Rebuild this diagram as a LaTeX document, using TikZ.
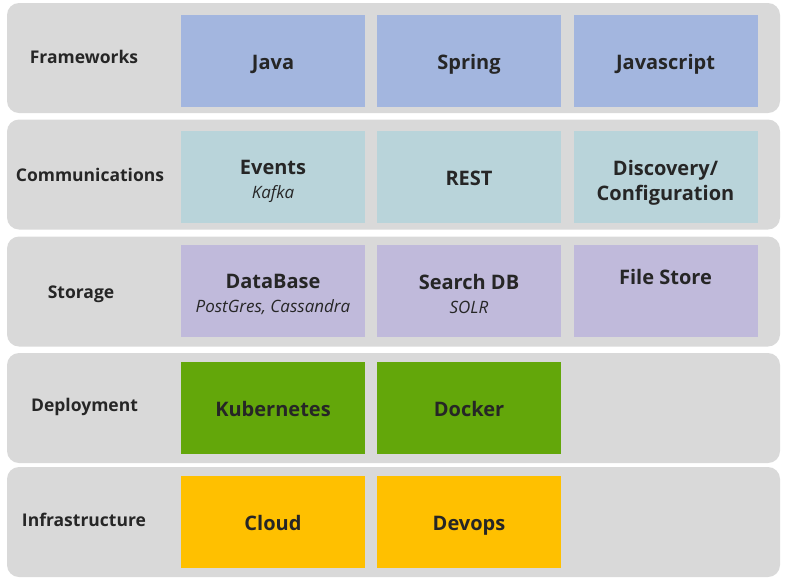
\documentclass[tikz,border=0pt]{standalone}
\usepackage{fontspec}
\setmainfont{Open Sans}
\usetikzlibrary{positioning}
\definecolor{bandgray}{HTML}{D9D9D9}
\definecolor{txtgray}{HTML}{262626}
\definecolor{fwblue}{HTML}{A3B6DF}
\definecolor{comteal}{HTML}{B9D4DA}
\definecolor{stlav}{HTML}{C0BADB}
\definecolor{dpgreen}{HTML}{63A70A}
\definecolor{infyel}{HTML}{FFC000}
\tikzset{
    band/.style = {rectangle, rounded corners=12pt, fill=bandgray, minimum width=773pt, minimum height=110pt, inner sep=0pt},
    rowlabel/.style = {font=\bfseries\fontsize{17.5}{21}\selectfont, text=txtgray, text height=14pt, text depth=1.5pt},
    cell/.style = {rectangle, minimum width=184pt, minimum height=92pt, inner sep=0pt, align=center, text=txtgray, font=\bfseries\fontsize{20}{25}\selectfont},
    oneline/.style = {text height=19pt, text depth=2pt},
    cellb/.style = {cell, fill=fwblue},
    cellt/.style = {cell, fill=comteal},
    cellp/.style = {cell, fill=stlav},
    cellg/.style = {cell, fill=dpgreen},
    celly/.style = {cell, fill=infyel}
}
% main line with an italic line below it
\newcommand{\cellpair}[3][23pt]{\rule{0pt}{#1}#2\\[-1pt]{\normalfont\itshape\fontsize{17}{20}\selectfont #3}}

\begin{document}
\begin{tikzpicture}[x=1pt,y=-1pt]
  \useasboundingbox (0,0) rectangle (786,579);
  % bands
  \node (frameband) at (393.5,58) [band] {};
  \node (commband) at (393.5,174.5) [band] {};
  \node (storeband) at (393.5,291.5) [band] {};
  \node (deployband) at (393.5,408) [band] {};
  \node (infraband) at (393.5,522) [band] {};
  % row labels
  \node (framelbl) at (84,57.5) [rowlabel] {Frameworks};
  \node (commlbl) at (90,175.5) [rowlabel] {Communications};
  \node (storelbl) at (81,292.7) [rowlabel] {Storage};
  \node (deploylbl) at (84.5,405) [rowlabel] {Deployment};
  \node (infralbl) at (84,520) [rowlabel] {Infrastructure};
  % frameworks
  \node (java) at (273,60.5) [cellb, oneline] {Java};
  \node (spring) at (469,60.5) [cellb, oneline] {Spring};
  \node (jscript) at (665.5,60.5) [cellb, oneline] {Javascript};
  % communications
  \node (events) at (273,177) [cellt] {\cellpair{Events}{Kafka}};
  \node (rest) at (469,177) [cellt, oneline] {REST};
  \node (discovery) at (665.5,177) [cellt] {\rule{0pt}{26pt}Discovery/\\[0pt]Configuration};
  % storage
  \node (database) at (273,291) [cellp] {\cellpair[22pt]{DataBase}{PostGres, Cassandra}};
  \node (searchdb) at (469,291) [cellp] {\cellpair[22pt]{Search DB}{SOLR}};
  \node (filestore) at (665.5,291) [cellp] {\cellpair[17pt]{File Store}{\strut}};
  % deployment
  \node (kube) at (273,407.5) [cellg, oneline] {Kubernetes};
  \node (docker) at (469,407.5) [cellg, oneline] {Docker};
  % infrastructure
  \node (cloud) at (273,522) [celly, oneline] {Cloud};
  \node (devops) at (469,522) [celly, oneline] {Devops};
\end{tikzpicture}
\end{document}
